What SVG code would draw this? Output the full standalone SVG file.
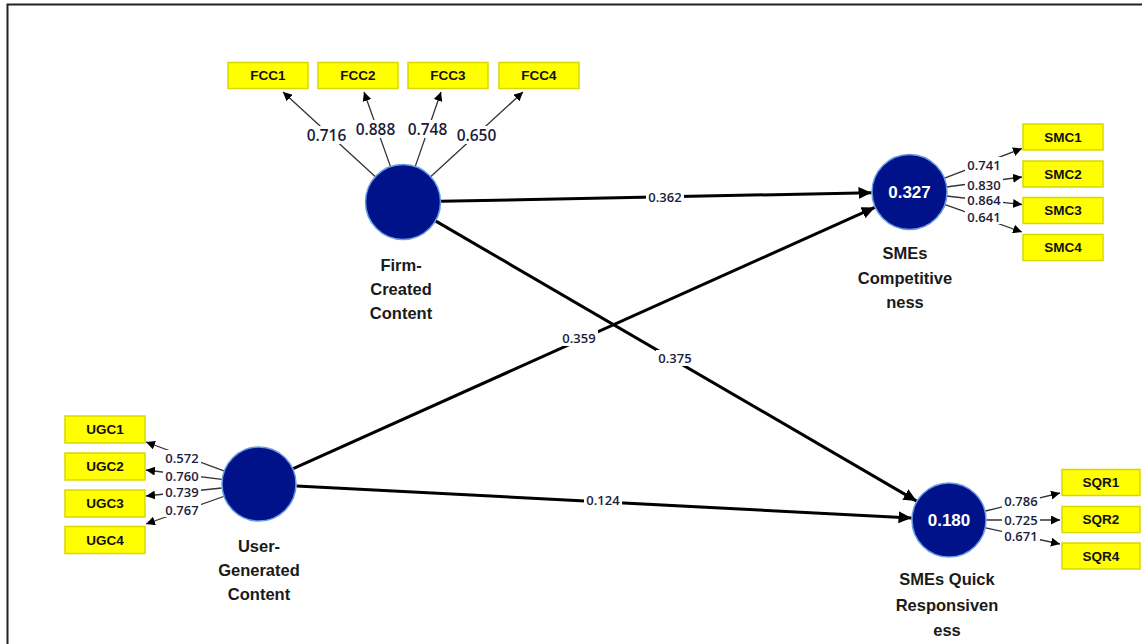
<svg xmlns="http://www.w3.org/2000/svg" width="1142" height="644" viewBox="0 0 1142 644">
<style>
.lv{fill:#00128a;stroke:#6a9be0;stroke-width:1.5}
.box{fill:#ffff00;stroke:#d8d800;stroke-width:1.5}
.bt{font-family:"Liberation Sans",Arial,sans-serif;font-weight:bold;font-size:13.5px;fill:#111;text-anchor:middle;dominant-baseline:central}
.nl{font-family:"Liberation Sans",Arial,sans-serif;font-weight:bold;font-size:16.5px;fill:#1a1a1a;text-anchor:middle}
.r2{font-family:"Liberation Sans",Arial,sans-serif;font-weight:bold;font-size:17px;fill:#fff;text-anchor:middle;dominant-baseline:central}
.sp{stroke:#000;stroke-width:3;fill:none;marker-end:url(#big)}
.ind{stroke:#333;stroke-width:1.3;fill:none;marker-end:url(#small)}
.cl{font-family:"Open Sans","Liberation Sans",Arial,sans-serif;font-weight:600;font-size:13px;fill:#1c1c3a;text-anchor:middle;dominant-baseline:central}
.cf{font-family:"Open Sans","Liberation Sans",Arial,sans-serif;font-weight:600;font-size:15.5px;fill:#1c1c3a;text-anchor:middle;dominant-baseline:central}
.bg{fill:#fff}
</style>
<defs>
<marker id="big" markerUnits="userSpaceOnUse" markerWidth="14" markerHeight="12" refX="13" refY="6" orient="auto"><path d="M0,0 L13,6 L0,12 z" fill="#000"/></marker>
<marker id="small" markerUnits="userSpaceOnUse" markerWidth="10" markerHeight="9" refX="9" refY="4.5" orient="auto"><path d="M0,0 L9,4.5 L0,9 z" fill="#000"/></marker>
</defs>
<rect x="0" y="0" width="1142" height="644" fill="#fff"/>
<path d="M7.5,644 V4.5 H1142" fill="none" stroke="#222" stroke-width="2"/>

<g id="connectors">
<line class="sp" x1="440.5" y1="201.3" x2="871.5" y2="192.7"/>
<line class="sp" x1="435.4" y1="220.9" x2="916.6" y2="501.1"/>
<line class="sp" x1="293.2" y1="468.6" x2="874.8" y2="207.4"/>
<line class="sp" x1="296.5" y1="486" x2="911.5" y2="518"/>
<line class="ind" x1="375.4" y1="176.7" x2="283" y2="92"/>
<line class="ind" x1="390.5" y1="166.6" x2="364" y2="92"/>
<line class="ind" x1="415.2" y1="166.6" x2="441" y2="92"/>
<line class="ind" x1="430.6" y1="176.7" x2="523" y2="92"/>
<line class="ind" x1="943.9" y1="178.4" x2="1022" y2="148.5"/>
<line class="ind" x1="946.2" y1="187" x2="1022" y2="177"/>
<line class="ind" x1="946.3" y1="196" x2="1022" y2="204.5"/>
<line class="ind" x1="944.4" y1="204.4" x2="1022" y2="232"/>
<line class="ind" x1="223.9" y1="470.9" x2="146" y2="442"/>
<line class="ind" x1="221.8" y1="479.4" x2="146" y2="470"/>
<line class="ind" x1="221.7" y1="488" x2="146" y2="496"/>
<line class="ind" x1="223.6" y1="496.5" x2="146" y2="524"/>
<line class="ind" x1="985.4" y1="511" x2="1060" y2="493"/>
<line class="ind" x1="986.5" y1="520" x2="1060" y2="520"/>
<line class="ind" x1="985.6" y1="527.9" x2="1060" y2="544"/>
<g id="coef">
<rect class="bg" x="646" y="188" width="38" height="16"/><text class="cl" x="665" y="196.5">0.362</text>
<rect class="bg" x="656" y="350" width="38" height="16"/><text class="cl" x="675" y="358">0.375</text>
<rect class="bg" x="560" y="330" width="38" height="16"/><text class="cl" x="579" y="338">0.359</text>
<rect class="bg" x="584" y="492" width="38" height="16"/><text class="cl" x="603" y="500">0.124</text>
<rect class="bg" x="305" y="126" width="43" height="18"/><text class="cf" x="326.5" y="135">0.716</text>
<rect class="bg" x="354" y="120" width="43" height="18"/><text class="cf" x="375.5" y="129">0.888</text>
<rect class="bg" x="406" y="120" width="43" height="18"/><text class="cf" x="427.5" y="129">0.748</text>
<rect class="bg" x="455" y="126" width="43" height="18"/><text class="cf" x="476.5" y="135">0.650</text>
<rect class="bg" x="965" y="157" width="38" height="15"/><text class="cl" x="984" y="164.5">0.741</text>
<rect class="bg" x="965" y="177" width="38" height="14"/><text class="cl" x="984" y="184.5">0.830</text>
<rect class="bg" x="965" y="193" width="38" height="14"/><text class="cl" x="984" y="200">0.864</text>
<rect class="bg" x="965" y="209" width="38" height="15"/><text class="cl" x="984" y="216.5">0.641</text>
<rect class="bg" x="163" y="450" width="38" height="15"/><text class="cl" x="182" y="457.5">0.572</text>
<rect class="bg" x="163" y="468" width="38" height="14"/><text class="cl" x="182" y="475.5">0.760</text>
<rect class="bg" x="163" y="485" width="38" height="14"/><text class="cl" x="182" y="492">0.739</text>
<rect class="bg" x="163" y="502" width="38" height="15"/><text class="cl" x="182" y="509.5">0.767</text>
<rect class="bg" x="1002" y="493" width="38" height="15"/><text class="cl" x="1021" y="500.5">0.786</text>
<rect class="bg" x="1002" y="513" width="38" height="14"/><text class="cl" x="1021" y="520">0.725</text>
<rect class="bg" x="1002" y="529" width="38" height="14"/><text class="cl" x="1021" y="536">0.671</text>
</g>
</g>

<g id="FCC">
<circle class="lv" cx="403" cy="202" r="37.5"/>
<text class="nl" x="401" y="271">Firm-</text>
<text class="nl" x="401" y="295">Created</text>
<text class="nl" x="401" y="319">Content</text>
</g>
<g id="UGC">
<circle class="lv" cx="259" cy="484" r="37"/>
<text class="nl" x="259" y="552">User-</text>
<text class="nl" x="259" y="576">Generated</text>
<text class="nl" x="259" y="600">Content</text>
</g>
<g id="SMC">
<circle class="lv" cx="909.5" cy="192" r="37.5"/>
<text class="r2" x="909.5" y="192">0.327</text>
<text class="nl" x="905" y="259">SMEs</text>
<text class="nl" x="905" y="284">Competitive</text>
<text class="nl" x="905" y="308">ness</text>
</g>
<g id="SQR">
<circle class="lv" cx="949" cy="520" r="37"/>
<text class="r2" x="949" y="520">0.180</text>
<text class="nl" x="947" y="585">SMEs Quick</text>
<text class="nl" x="947" y="611">Responsiven</text>
<text class="nl" x="947" y="636">ess</text>
</g>

<g id="FCC1"><rect class="box" x="228" y="62.5" width="80" height="26"/><text class="bt" x="268" y="75.5">FCC1</text></g>
<g id="FCC2"><rect class="box" x="318" y="62.5" width="80" height="26"/><text class="bt" x="358" y="75.5">FCC2</text></g>
<g id="FCC3"><rect class="box" x="408" y="62.5" width="80" height="26"/><text class="bt" x="448" y="75.5">FCC3</text></g>
<g id="FCC4"><rect class="box" x="499" y="62.5" width="80" height="26"/><text class="bt" x="539" y="75.5">FCC4</text></g>
<g id="SMC1"><rect class="box" x="1023" y="124" width="80" height="26"/><text class="bt" x="1063" y="137">SMC1</text></g>
<g id="SMC2"><rect class="box" x="1023" y="161" width="80" height="26"/><text class="bt" x="1063" y="174">SMC2</text></g>
<g id="SMC3"><rect class="box" x="1023" y="197.5" width="80" height="26"/><text class="bt" x="1063" y="210.5">SMC3</text></g>
<g id="SMC4"><rect class="box" x="1023" y="234.5" width="80" height="26"/><text class="bt" x="1063" y="247.5">SMC4</text></g>
<g id="UGC1"><rect class="box" x="65" y="416" width="80" height="27"/><text class="bt" x="105" y="429.5">UGC1</text></g>
<g id="UGC2"><rect class="box" x="65" y="453" width="80" height="27"/><text class="bt" x="105" y="466.5">UGC2</text></g>
<g id="UGC3"><rect class="box" x="65" y="490" width="80" height="27"/><text class="bt" x="105" y="503.5">UGC3</text></g>
<g id="UGC4"><rect class="box" x="65" y="526.5" width="80" height="27"/><text class="bt" x="105" y="540">UGC4</text></g>
<g id="SQR1"><rect class="box" x="1062" y="469.5" width="78" height="26"/><text class="bt" x="1101" y="482.5">SQR1</text></g>
<g id="SQR2"><rect class="box" x="1062" y="506.5" width="78" height="26"/><text class="bt" x="1101" y="519.5">SQR2</text></g>
<g id="SQR4"><rect class="box" x="1062" y="543" width="78" height="26"/><text class="bt" x="1101" y="556">SQR4</text></g>
</svg>
